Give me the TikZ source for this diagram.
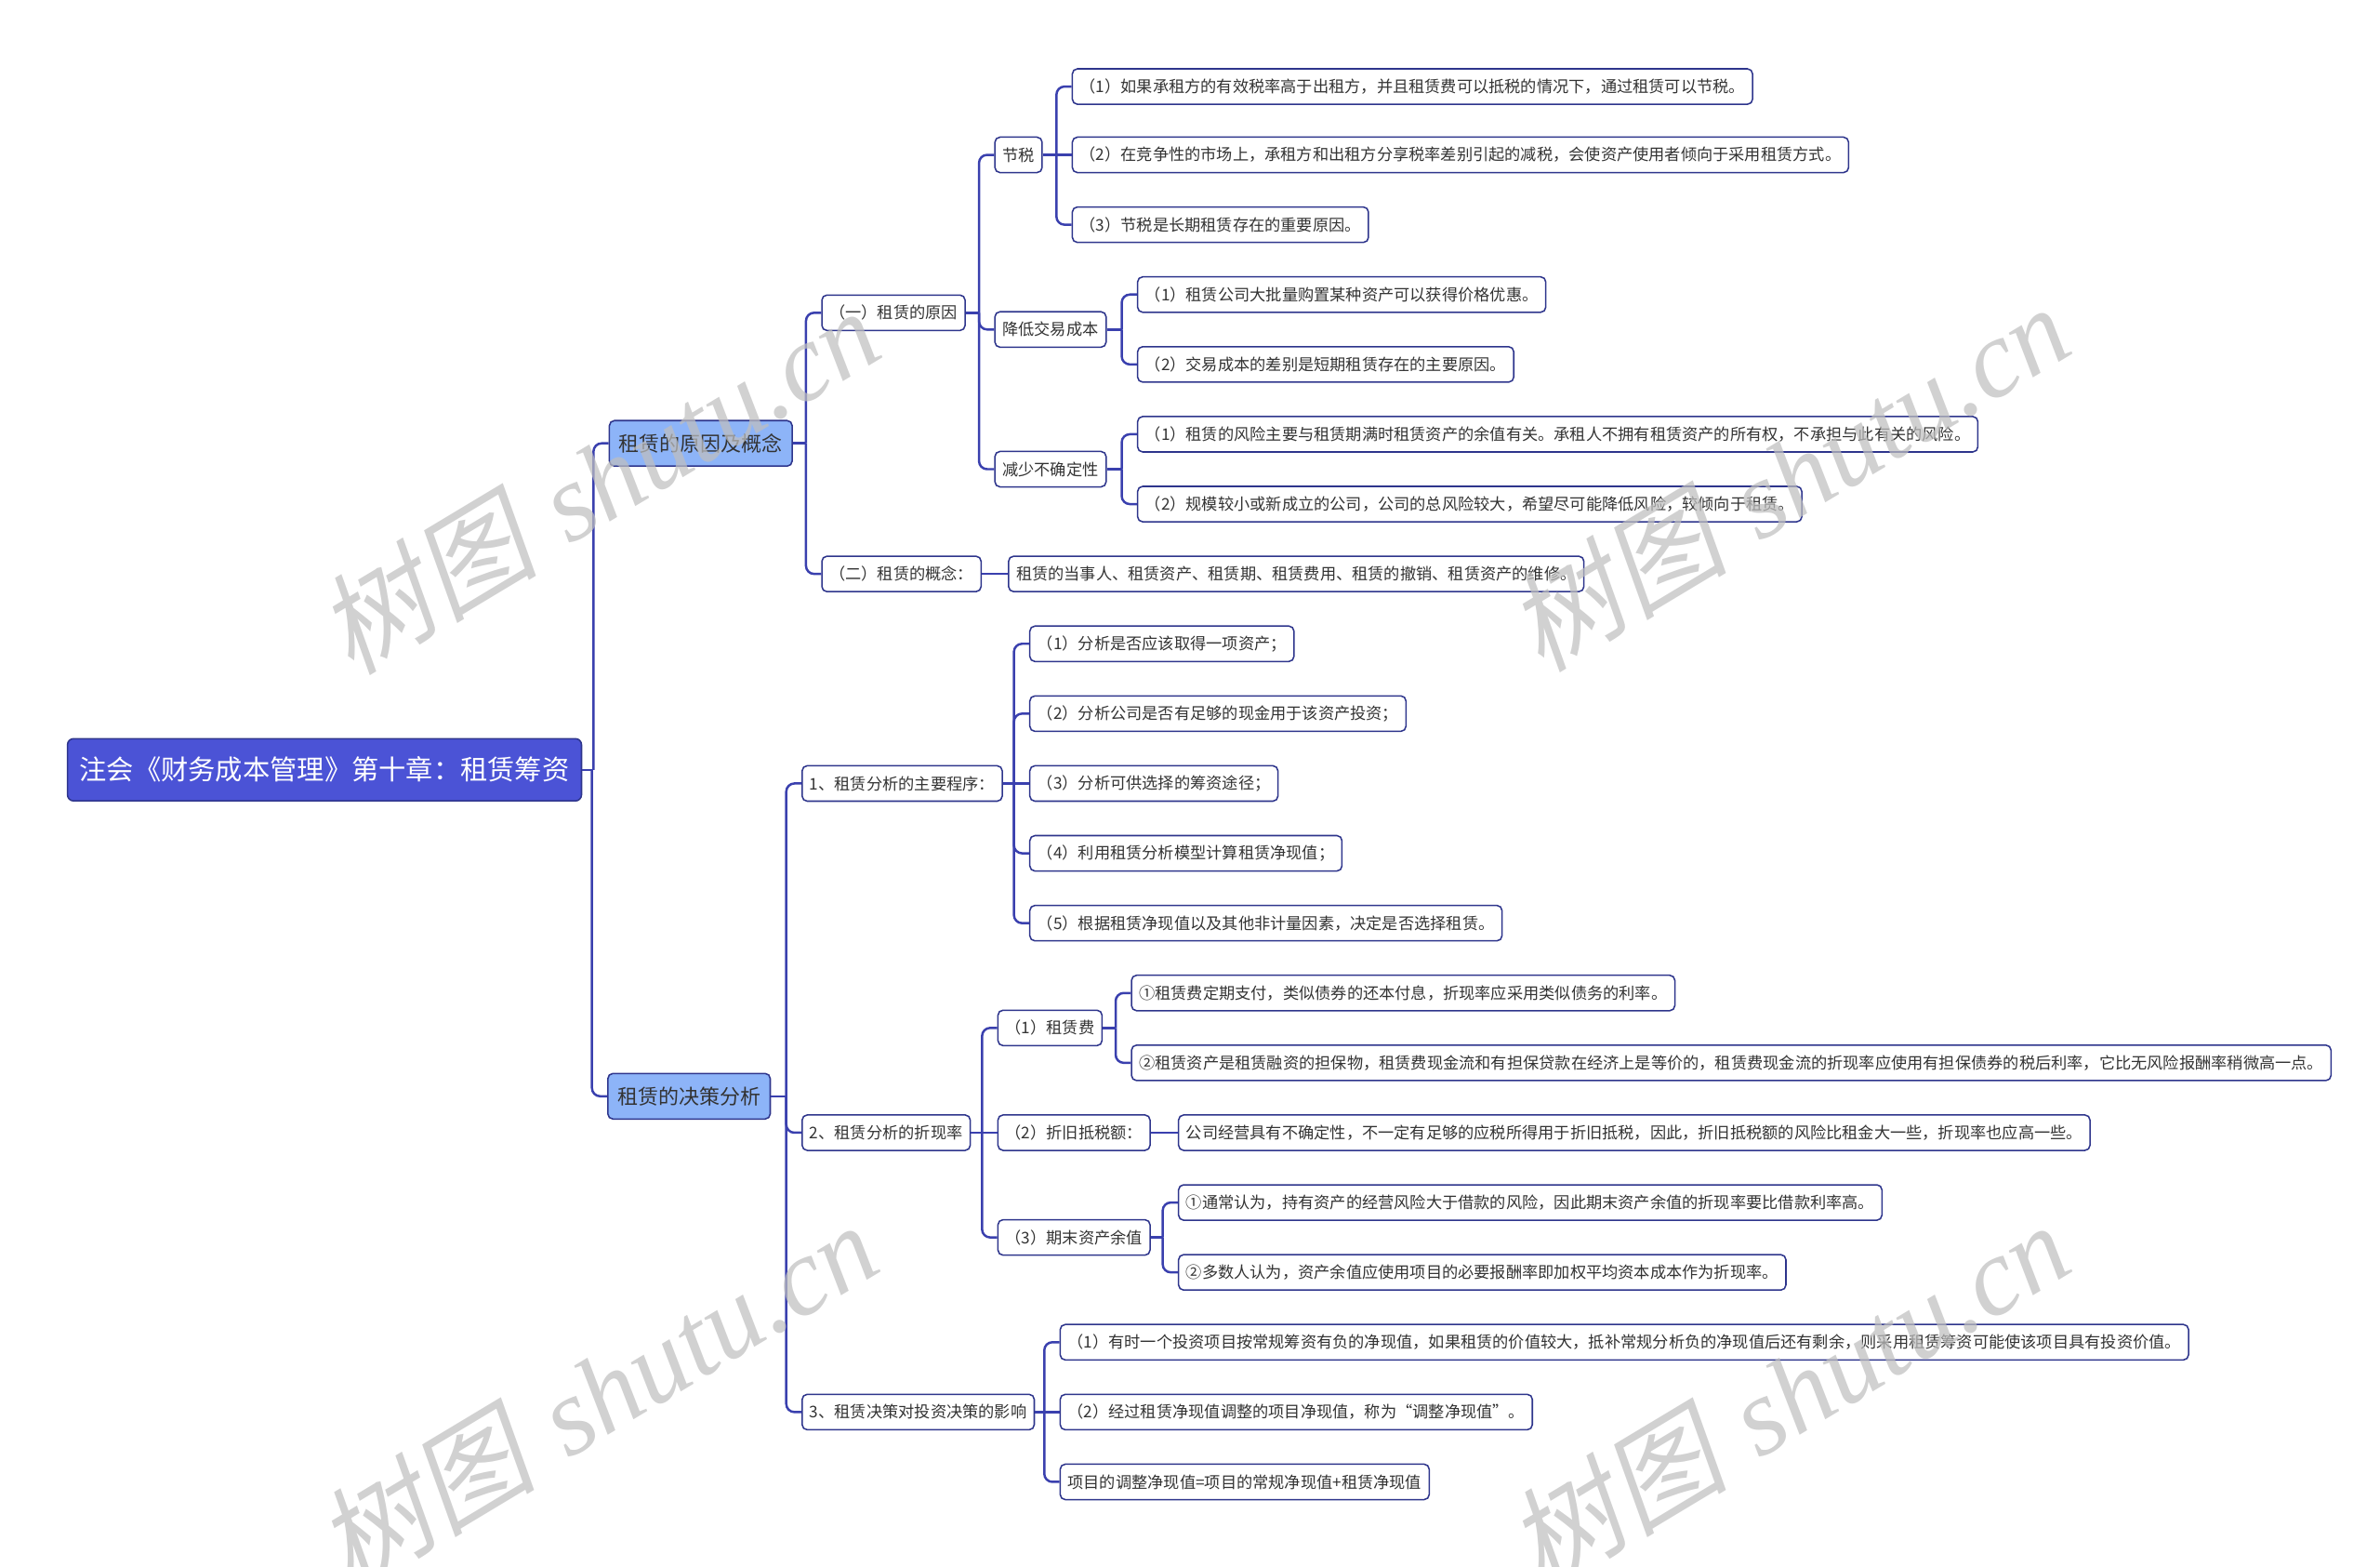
\documentclass[tikz,border=0pt]{standalone}
\usepackage{fontspec}
\newfontfamily\cjk{Noto Sans CJK SC}
\newfontfamily\cjkslant[FakeSlant=0.2]{Noto Sans CJK SC}
\newfontfamily\wmserif{Liberation Serif}
\usetikzlibrary{calc}

\definecolor{rootblue}{HTML}{4B53D6}
\definecolor{topicblue}{HTML}{8DB4F8}
\definecolor{edgeblue}{HTML}{3A40AE}
\definecolor{boxline}{HTML}{2E358C}
\definecolor{txtgray}{HTML}{333333}

\begin{document}
\begin{tikzpicture}[
  x=0.3mm, y=-0.3mm,
  font=\cjk,
  titlebox/.style={draw=boxline, line width=0.8pt, fill=rootblue, text=white,
                   rounded corners=1.2mm, inner xsep=2.4mm, minimum height=12.3mm,
                   anchor=west, font=\cjk\fontsize{15.3}{18}\selectfont},
  topic/.style={draw=boxline, line width=0.8pt, fill=topicblue, text=black!80,
                rounded corners=1mm, inner xsep=1.9mm, minimum height=9mm,
                anchor=west, font=\cjk\fontsize{11.5}{14}\selectfont},
  leaf/.style={draw=boxline, line width=0.8pt, fill=white, text=txtgray,
               rounded corners=1mm, inner xsep=1.5mm, minimum height=7mm,
               anchor=west, font=\cjk\fontsize{9}{11}\selectfont},
  link/.style={draw=edgeblue, line width=1.3pt, rounded corners=1.6mm},
  wmark/.style={rotate=31, text=black!25, text opacity=0.72, inner sep=0pt,
                font=\fontsize{62}{62}\selectfont}
]
\useasboundingbox (0,0) rectangle (1568,1032);

% ---------- 中心主题 ----------
\node[titlebox] (root) at (44,507) {注会《财务成本管理》第十章：租赁筹资};

% ---------- 一级分支 ----------
\node[topic] (why) at (401,292) {租赁的原因及概念};
\node[topic] (dec) at (400,722) {租赁的决策分析};

% ---------- 租赁的原因及概念 ----------
\node[leaf] (rsn)  at (541,206) {（一）租赁的原因};
\node[leaf] (cpt)  at (541,378) {（二）租赁的概念：};
\node[leaf] (tax)  at (655,102) {节税};
\node[leaf] (cost) at (655,217) {降低交易成本};
\node[leaf] (risk) at (655,309) {减少不确定性};

\node[leaf] (tax1)  at (706,57)  {（1）如果承租方的有效税率高于出租方，并且租赁费可以抵税的情况下，通过租赁可以节税。};
\node[leaf] (tax2)  at (706,102) {（2）在竞争性的市场上，承租方和出租方分享税率差别引起的减税，会使资产使用者倾向于采用租赁方式。};
\node[leaf] (tax3)  at (706,148) {（3）节税是长期租赁存在的重要原因。};
\node[leaf] (cost1) at (749,194) {（1）租赁公司大批量购置某种资产可以获得价格优惠。};
\node[leaf] (cost2) at (749,240) {（2）交易成本的差别是短期租赁存在的主要原因。};
\node[leaf] (risk1) at (749,286) {（1）租赁的风险主要与租赁期满时租赁资产的余值有关。承租人不拥有租赁资产的所有权，不承担与此有关的风险。};
\node[leaf] (risk2) at (749,332) {（2）规模较小或新成立的公司，公司的总风险较大，希望尽可能降低风险，较倾向于租赁。};
\node[leaf] (cpt1)  at (664,378) {租赁的当事人、租赁资产、租赁期、租赁费用、租赁的撤销、租赁资产的维修。};

% ---------- 租赁的决策分析 ----------
\node[leaf] (proc) at (528,516) {1、租赁分析的主要程序：};
\node[leaf] (rate) at (528,746) {2、租赁分析的折现率};
\node[leaf] (eff)  at (528,930) {3、租赁决策对投资决策的影响};

\node[leaf] (proc1) at (678,424) {（1）分析是否应该取得一项资产；};
\node[leaf] (proc2) at (678,470) {（2）分析公司是否有足够的现金用于该资产投资；};
\node[leaf] (proc3) at (678,516) {（3）分析可供选择的筹资途径；};
\node[leaf] (proc4) at (678,562) {（4）利用租赁分析模型计算租赁净现值；};
\node[leaf] (proc5) at (678,608) {（5）根据租赁净现值以及其他非计量因素，决定是否选择租赁。};

\node[leaf] (fee)  at (657,677) {（1）租赁费};
\node[leaf] (dep)  at (657,746) {（2）折旧抵税额：};
\node[leaf] (res)  at (657,815) {（3）期末资产余值};

\node[leaf] (fee1) at (745,654) {①租赁费定期支付，类似债券的还本付息，折现率应采用类似债务的利率。};
\node[leaf] (fee2) at (745,700) {②租赁资产是租赁融资的担保物，租赁费现金流和有担保贷款在经济上是等价的，租赁费现金流的折现率应使用有担保债券的税后利率，它比无风险报酬率稍微高一点。};
\node[leaf] (dep1) at (776,746) {公司经营具有不确定性，不一定有足够的应税所得用于折旧抵税，因此，折旧抵税额的风险比租金大一些，折现率也应高一些。};
\node[leaf] (res1) at (776,792) {①通常认为，持有资产的经营风险大于借款的风险，因此期末资产余值的折现率要比借款利率高。};
\node[leaf] (res2) at (776,838) {②多数人认为，资产余值应使用项目的必要报酬率即加权平均资本成本作为折现率。};

\node[leaf] (eff1) at (698,884) {（1）有时一个投资项目按常规筹资有负的净现值，如果租赁的价值较大，抵补常规分析负的净现值后还有剩余，则采用租赁筹资可能使该项目具有投资价值。};
\node[leaf] (eff2) at (698,930) {（2）经过租赁净现值调整的项目净现值，称为“调整净现值”。};
\node[leaf] (eff3) at (698,976) {项目的调整净现值=项目的常规净现值+租赁净现值};

% ---------- 连线：父节点右侧短线 ----------
\draw[link] (root.east) -- ([xshift=-3mm]why.west |- root.east);
\draw[link] (why.east)  -- ([xshift=-3mm]rsn.west |- why.east);
\draw[link] (rsn.east)  -- ([xshift=-3mm]tax.west |- rsn.east);
\draw[link] (tax.east)  -- ([xshift=-3mm]tax1.west |- tax.east);
\draw[link] (cost.east) -- ([xshift=-3mm]cost1.west |- cost.east);
\draw[link] (risk.east) -- ([xshift=-3mm]risk1.west |- risk.east);
\draw[link] (dec.east)  -- ([xshift=-3mm]proc.west |- dec.east);
\draw[link] (proc.east) -- ([xshift=-3mm]proc1.west |- proc.east);
\draw[link] (rate.east) -- ([xshift=-3mm]fee.west |- rate.east);
\draw[link] (fee.east)  -- ([xshift=-3mm]fee1.west |- fee.east);
\draw[link] (res.east)  -- ([xshift=-3mm]res1.west |- res.east);
\draw[link] (eff.east)  -- ([xshift=-3mm]eff1.west |- eff.east);
\draw[link] (cpt.east)  -- (cpt1.west);                  % 单个子节点，直线
\draw[link] (dep.east)  -- (dep1.west);

% ---------- 连线：竖干到子节点 ----------
\draw[link] (why.west)   -- ++(-10,0) -- ([xshift=-3mm]why.west |- root.east);
\draw[link] (dec.west)   -- ++(-10,0) -- ([xshift=-3mm]dec.west |- root.east);
\draw[link] (rsn.west)   -- ++(-10,0) -- ([xshift=-3mm]rsn.west |- why.east);
\draw[link] (cpt.west)   -- ++(-10,0) -- ([xshift=-3mm]cpt.west |- why.east);
\draw[link] (tax.west)   -- ++(-10,0) -- ([xshift=-3mm]tax.west |- rsn.east);
\draw[link] (cost.west)  -- ++(-10,0) -- ([xshift=-3mm]cost.west |- rsn.east);
\draw[link] (risk.west)  -- ++(-10,0) -- ([xshift=-3mm]risk.west |- rsn.east);
\draw[link] (tax1.west)  -- ++(-10,0) -- ([xshift=-3mm]tax1.west |- tax.east);
\draw[link] (tax3.west)  -- ++(-10,0) -- ([xshift=-3mm]tax3.west |- tax.east);
\draw[link] (cost1.west) -- ++(-10,0) -- ([xshift=-3mm]cost1.west |- cost.east);
\draw[link] (cost2.west) -- ++(-10,0) -- ([xshift=-3mm]cost2.west |- cost.east);
\draw[link] (risk1.west) -- ++(-10,0) -- ([xshift=-3mm]risk1.west |- risk.east);
\draw[link] (risk2.west) -- ++(-10,0) -- ([xshift=-3mm]risk2.west |- risk.east);
\draw[link] (tax2.west)  -- ([xshift=-3mm]tax2.west |- tax.east);

\draw[link] (proc.west)  -- ++(-10,0) -- ([xshift=-3mm]proc.west |- dec.east);
\draw[link] (rate.west)  -- ++(-10,0) -- ([xshift=-3mm]rate.west |- dec.east);
\draw[link] (eff.west)   -- ++(-10,0) -- ([xshift=-3mm]eff.west |- dec.east);
\draw[link] (proc1.west) -- ++(-10,0) -- ([xshift=-3mm]proc1.west |- proc.east);
\draw[link] (proc2.west) -- ++(-10,0) -- ([xshift=-3mm]proc2.west |- proc.east);
\draw[link] (proc4.west) -- ++(-10,0) -- ([xshift=-3mm]proc4.west |- proc.east);
\draw[link] (proc5.west) -- ++(-10,0) -- ([xshift=-3mm]proc5.west |- proc.east);
\draw[link] (proc3.west) -- ([xshift=-3mm]proc3.west |- proc.east);
\draw[link] (fee.west)   -- ++(-10,0) -- ([xshift=-3mm]fee.west |- rate.east);
\draw[link] (res.west)   -- ++(-10,0) -- ([xshift=-3mm]res.west |- rate.east);
\draw[link] (dep.west)   -- ([xshift=-3mm]dep.west |- rate.east);
\draw[link] (fee1.west)  -- ++(-10,0) -- ([xshift=-3mm]fee1.west |- fee.east);
\draw[link] (fee2.west)  -- ++(-10,0) -- ([xshift=-3mm]fee2.west |- fee.east);
\draw[link] (res1.west)  -- ++(-10,0) -- ([xshift=-3mm]res1.west |- res.east);
\draw[link] (res2.west)  -- ++(-10,0) -- ([xshift=-3mm]res2.west |- res.east);
\draw[link] (eff1.west)  -- ++(-10,0) -- ([xshift=-3mm]eff1.west |- eff.east);
\draw[link] (eff3.west)  -- ++(-10,0) -- ([xshift=-3mm]eff3.west |- eff.east);
\draw[link] (eff2.west)  -- ([xshift=-3mm]eff2.west |- eff.east);

% ---------- 水印 ----------
\node[wmark] (wm1) at (394,316)  {{\cjkslant 树图} {\wmserif\itshape shutu.cn}};
\node[wmark] (wm2) at (1178,314) {{\cjkslant 树图} {\wmserif\itshape shutu.cn}};
\node[wmark] (wm3) at (393,918)  {{\cjkslant 树图} {\wmserif\itshape shutu.cn}};
\node[wmark] (wm4) at (1178,918) {{\cjkslant 树图} {\wmserif\itshape shutu.cn}};

\end{tikzpicture}
\end{document}
